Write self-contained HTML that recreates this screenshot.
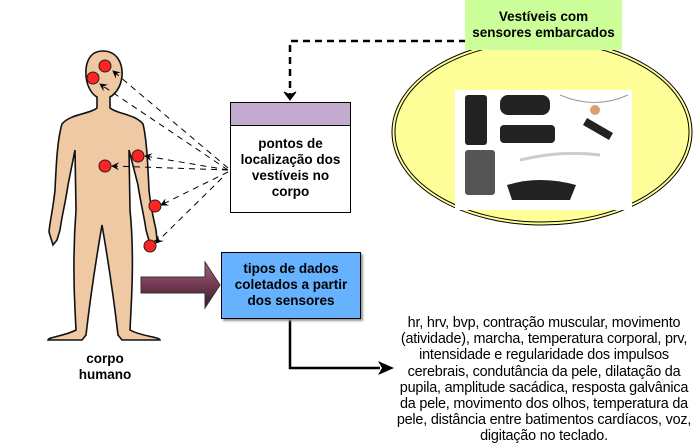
<!DOCTYPE html>
<html><head><meta charset="utf-8"><style>
body{margin:0;width:694px;height:447px;background:#fff;position:relative;overflow:hidden;font-family:"Liberation Sans",sans-serif}
.b{position:absolute;font-weight:bold;text-align:center;font-size:12.5px;line-height:16px;color:#000}
</style></head><body>
<svg width="694" height="447" style="position:absolute;left:0;top:0">
<defs>
<linearGradient id="pg" x1="0" y1="0" x2="0" y2="1"><stop offset="0" stop-color="#a8607f"/><stop offset="1" stop-color="#3a1626"/></linearGradient>
<marker id="a" markerWidth="8" markerHeight="8" refX="7" refY="4" orient="auto"><path d="M0,0 L8,4 L0,8 L3,4z" fill="#000"/></marker>
</defs>
<path d="M103,51 C90,51 85,62 86,76 C87,88 93,95 97,97 L97,108 C90,114 70,114 62,124 C57,140 56,170 55,190 C53,210 50,220 49,232 L53,245 L57,240 L60,230 C62,215 66,200 68,185 L75,150 L76,210 C73,250 74,290 75,310 L76,330 C65,336 48,337 48,340 L82,340 L86,335 C90,300 96,260 102,225 C108,260 114,300 118,335 L122,340 L160,340 C160,337 140,336 130,330 L131,310 C132,290 134,250 130,210 L129,150 L138,185 C140,200 144,215 146,230 L150,244 L157,240 L156,230 C154,220 151,210 149,190 C148,170 147,140 143,124 C135,114 117,114 110,108 L110,97 C114,95 121,88 122,76 C123,62 116,51 103,51 Z" fill="#eec9a3" stroke="#111" stroke-width="1.6"/>
<g stroke="#000" stroke-dasharray="6,5" stroke-width="1" fill="none">
<line x1="228" y1="168" x2="113" y2="71" marker-end="url(#a)"/>
<line x1="228" y1="170" x2="100" y2="84" marker-end="url(#a)"/>
<line x1="228" y1="170" x2="145" y2="156" marker-end="url(#a)"/>
<line x1="228" y1="170" x2="112" y2="166" marker-end="url(#a)"/>
<line x1="228" y1="172" x2="161" y2="205" marker-end="url(#a)"/>
<line x1="222" y1="178" x2="156" y2="243" marker-end="url(#a)"/>
</g>
<g fill="#f22" stroke="#222" stroke-width="1">
<circle cx="105" cy="66" r="6"/><circle cx="93" cy="78" r="6"/><circle cx="138" cy="156" r="6"/>
<circle cx="105" cy="166" r="6"/><circle cx="155" cy="206" r="6"/><circle cx="150" cy="246" r="6"/>
</g>
<path d="M466,41 L290,41 L290,98" stroke="#000" stroke-width="2.5" stroke-dasharray="7,5" fill="none"/>
<path d="M284,92 L290,100 L296,92 L290,95z" fill="#000" stroke="#000"/>
<ellipse cx="542" cy="132" rx="150" ry="93" fill="#ffff99" stroke="#000" stroke-width="1"/>
<ellipse cx="542" cy="132" rx="147" ry="90" fill="none" stroke="#000" stroke-width="1"/>
<rect x="455" y="90" width="177" height="120" fill="#fff"/>
<g fill="#222">
<rect x="465" y="95" width="22" height="50" rx="3"/><rect x="500" y="95" width="50" height="20" rx="8"/>
<rect x="500" y="125" width="55" height="18" rx="4"/><rect x="465" y="150" width="30" height="45" rx="3" fill="#555"/>
<path d="M507,185 Q540,175 576,185 L570,200 L512,200z"/>
<rect x="583" y="125" width="30" height="8" transform="rotate(30 598 129)"/>
</g>
<path d="M560,95 Q595,110 628,95" stroke="#999" fill="none"/>
<circle cx="595" cy="110" r="5" fill="#d9a070"/>
<path d="M520,160 Q560,150 600,155" stroke="#ccc" stroke-width="3" fill="none"/>
<path d="M141,277 L205,277 L205,262 L220,285 L205,308 L205,293 L141,293 Z" fill="url(#pg)" stroke="#333" stroke-width="1"/>
<path d="M290,318 L290,368 L380,368" stroke="#000" stroke-width="2.5" fill="none"/>
<path d="M378,361 L394,368 L378,375 L382,368z" fill="#000"/>
</svg>
<div style="position:absolute;left:465px;top:0;width:157px;height:50px;background:#ccff99"></div>
<div class="b" style="left:460px;top:9px;width:167px;font-size:13.5px">Vestíveis com<br>sensores embarcados</div>
<div style="position:absolute;left:230px;top:102px;width:119px;height:109px;border:1px solid #000;background:#fff"></div>
<div style="position:absolute;left:231px;top:103px;width:119px;height:22px;background:#c3abd0;border-bottom:1px solid #000"></div>
<div class="b" style="left:225px;top:136px;width:131px;font-size:13.5px">pontos de<br>localização dos<br>vestíveis no<br>corpo</div>
<div style="position:absolute;left:221px;top:252px;width:138px;height:65px;background:#66b2ff;border:1px solid #000;box-shadow:2px 2px 2px #999"></div>
<div class="b" style="left:216px;top:261px;width:150px;font-size:13.5px">tipos de dados<br>coletados a partir<br>dos sensores</div>
<div class="b" style="left:55px;top:351px;width:100px;font-size:13.5px">corpo<br>humano</div>
<div style="position:absolute;left:396px;top:315px;width:296px;text-align:center;font-size:14.4px;line-height:16.2px;letter-spacing:-0.2px">hr, hrv, bvp, contração muscular, movimento (atividade), marcha, temperatura corporal, prv, intensidade e regularidade dos impulsos cerebrais, condutância da pele, dilatação da pupila, amplitude sacádica, resposta galvânica<br>da pele, movimento dos olhos, temperatura da pele, distância entre batimentos cardíacos, voz, digitação no teclado.</div>
</body></html>
